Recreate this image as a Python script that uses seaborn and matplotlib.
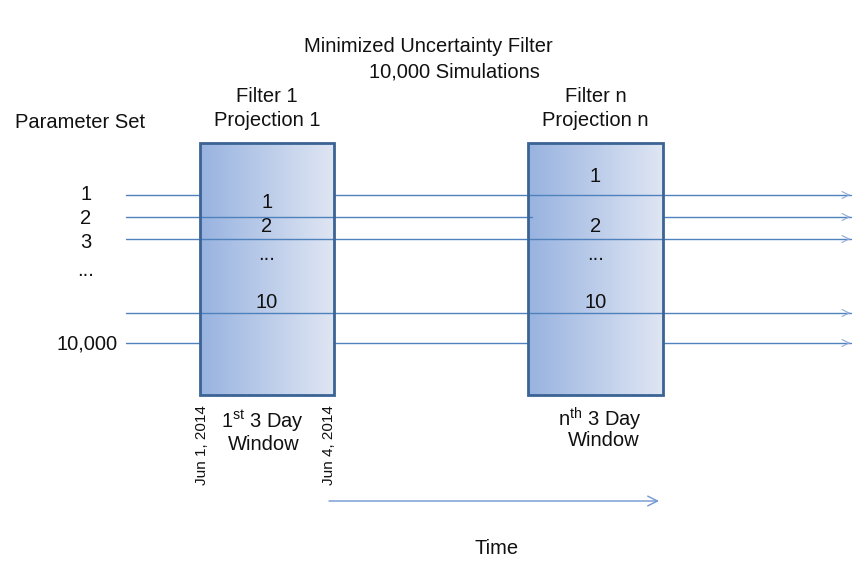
import numpy as np
import pandas as pd
import matplotlib.pyplot as plt
import seaborn as sns
from matplotlib.patches import Rectangle
from matplotlib.colors import LinearSegmentedColormap

# canvas in pixel units (y grows downward)
W, H = 853, 563

# parameter-set rows
row_names = ['1', '2', '3', '10', '10,000']
row_y = [195, 217, 239, 313, 343]
left_labels = ['1', '2', '3', '...', '10,000']
left_label_y = [195, 218, 243, 270, 344]

# where each row's line is visible (stops at box edges when hidden behind a box)
row_segments = {
    '1': [(126, 200), (334, 851)],
    '2': [(126, 532), (663, 851)],
    '3': [(126, 851)],
    '10': [(126, 851)],
    '10,000': [(126, 200), (334, 528), (663, 851)],
}

# filter windows
filter_names = ['Filter 1', 'Filter n']
projection_names = ['Projection 1', 'Projection n']
box_left = [200, 528]
box_right = [334, 663]
box_top, box_bottom = 143, 395
box_labels = ['1', '2', '...', '10']
box_label_y = [[202, 227, 255, 302], [177, 227, 255, 302]]
window_top = ['1$^{st}$ 3 Day', 'n$^{th}$ 3 Day']
window_top_x = [262, 600]
window_top_y = [421, 419]
window_bottom_x = [264, 604]
window_bottom_y = [445, 441]
dates = ['Jun 1, 2014', 'Jun 4, 2014']
date_x = [202, 329]

line_col = '#4F81BD'
edge_col = '#3B6394'
txt_col = '#111111'

sns.set_style('white')
plt.rcParams['font.family'] = ['Liberation Sans', 'DejaVu Sans']
plt.rcParams['mathtext.default'] = 'regular'
plt.rcParams['text.color'] = txt_col

fig = plt.figure(figsize=(W / 100, H / 100), dpi=100)
ax = fig.add_axes([0, 0, 1, 1])

# gradient boxes
cmap = LinearSegmentedColormap.from_list('boxgrad', ['#98B3E0', '#DFE6F3'])
grad = np.linspace(0, 1, 256).reshape(1, -1)
for l, r in zip(box_left, box_right):
    ax.imshow(grad, cmap=cmap, aspect='auto', extent=(l, r, box_bottom, box_top),
              zorder=1, interpolation='bicubic')
    ax.add_patch(Rectangle((l, box_top), r - l, box_bottom - box_top,
                           fill=False, edgecolor=edge_col, lw=2.0, zorder=3))

# row lines
recs = []
seg_id = 0
for name, y in zip(row_names, row_y):
    for x0, x1 in row_segments[name]:
        recs.append({'x': x0, 'y': y, 'seg': seg_id})
        recs.append({'x': x1, 'y': y, 'seg': seg_id})
        seg_id += 1
lines = pd.DataFrame(recs)
sns.lineplot(data=lines, x='x', y='y', units='seg', estimator=None, sort=False,
             color=line_col, lw=1.0, ax=ax, zorder=2)
for y in row_y:
    ax.annotate('', xy=(853, y), xytext=(845, y),
                arrowprops=dict(arrowstyle='->,head_length=0.5,head_width=0.25',
                                color='#8EAADB', lw=0.8))

# time arrow
ax.annotate('', xy=(659, 501), xytext=(329, 501),
            arrowprops=dict(arrowstyle='->,head_length=0.7,head_width=0.35',
                            color='#6F97D0', lw=1.0, shrinkA=0, shrinkB=0))

fs = 14.5
ax.text(428, 47, 'Minimized Uncertainty Filter', ha='center', va='center', fontsize=fs)
ax.text(454, 72, '10,000 Simulations', ha='center', va='center', fontsize=fs)
ax.text(80, 122, 'Parameter Set', ha='center', va='center', fontsize=fs)
for lab, y in zip(left_labels, left_label_y):
    ax.text(118 if lab == '10,000' else 86, y, lab,
            ha='right' if lab == '10,000' else 'center', va='center', fontsize=fs)

for i, (l, r) in enumerate(zip(box_left, box_right)):
    cx = (l + r) / 2
    ax.text(cx, 97, filter_names[i], ha='center', va='center', fontsize=fs)
    ax.text(cx, 121, projection_names[i], ha='center', va='center', fontsize=fs)
    for lab, y in zip(box_labels, box_label_y[i]):
        ax.text(cx, y, lab, ha='center', va='center', fontsize=fs, zorder=4)
    ax.text(window_top_x[i], window_top_y[i], window_top[i], ha='center',
            va='center', fontsize=fs)
    ax.text(window_bottom_x[i], window_bottom_y[i], 'Window', ha='center',
            va='center', fontsize=fs)

for d, x in zip(dates, date_x):
    ax.text(x, 445, d, rotation=90, ha='center', va='center', fontsize=11)

ax.text(497, 548, 'Time', ha='center', va='center', fontsize=fs)

ax.set_xlim(0, W)
ax.set_ylim(H, 0)
ax.axis('off')

fig.savefig('out.png', dpi=100)
